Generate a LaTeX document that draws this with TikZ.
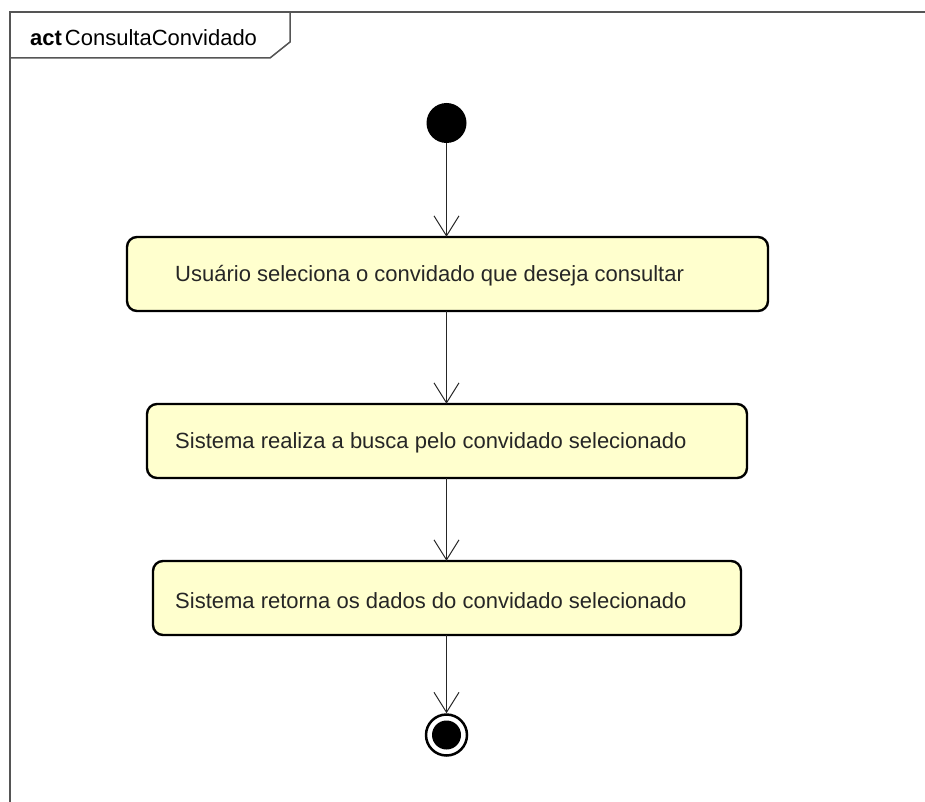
\documentclass[tikz,border=0pt]{standalone}
\usepackage{fontspec}
\setmainfont{Liberation Sans}
\usetikzlibrary{arrows.meta}
\definecolor{actfill}{RGB}{255,255,206}
\definecolor{framegray}{RGB}{85,85,85}
\tikzset{
  action/.style={draw=black, line width=2.4pt, fill=actfill, rounded corners=10pt},
  actlabel/.style={anchor=west, inner sep=0pt, font=\fontsize{22}{26}\selectfont, text=black!85},
  flow/.style={draw=black!85, line width=1pt, -{Straight Barb[length=20pt,width=25pt,line width=1pt]}},
  framebox/.style={draw=framegray, line width=1.5pt},
}
\begin{document}
\begin{tikzpicture}[x=1pt,y=-1pt]
\useasboundingbox (0,0) rectangle (925,802);
% frame
\draw[framebox] (10,802) -- (10,12) -- (930,12);
\draw[framebox] (10,12) -- (290,12) -- (290,42) -- (270,58) -- (10,58);
\node[anchor=base west, inner sep=0pt, font=\fontsize{22}{26}\selectfont] (title) at (30,46) {\textbf{act}\kern3pt ConsultaConvidado};
% initial node
\node[circle, fill=black, minimum size=40pt, inner sep=0pt] (start) at (446.5,123) {};
% actions
\path[action] (127,237) rectangle (768,311);
\node[minimum width=641pt, minimum height=74pt, inner sep=0pt] (a1) at (447.5,274) {};
\node[actlabel] (t1) at (175,276) {Usuário seleciona o convidado que deseja consultar};
\path[action] (147,404) rectangle (747,478);
\node[minimum width=600pt, minimum height=74pt, inner sep=0pt] (a2) at (447,441) {};
\node[actlabel] (t2) at (175,443) {Sistema realiza a busca pelo convidado selecionado};
\path[action] (153,561) rectangle (741,635);
\node[minimum width=588pt, minimum height=74pt, inner sep=0pt] (a3) at (447,598) {};
\node[actlabel] (t3) at (175,601) {Sistema retorna os dados do convidado selecionado};
% final node
\node[circle, draw=black, line width=2.5pt, minimum size=41pt, inner sep=0pt] (final) at (446.5,735) {};
\node[circle, fill=black, minimum size=29pt, inner sep=0pt] (finalin) at (446.5,735) {};
% flows
\draw[flow] (start.south) -- (start.south |- a1.north);
\draw[flow] (start.south |- a1.south) -- (start.south |- a2.north);
\draw[flow] (start.south |- a2.south) -- (start.south |- a3.north);
\draw[flow] (start.south |- a3.south) -- (final.north);
\end{tikzpicture}
\end{document}
